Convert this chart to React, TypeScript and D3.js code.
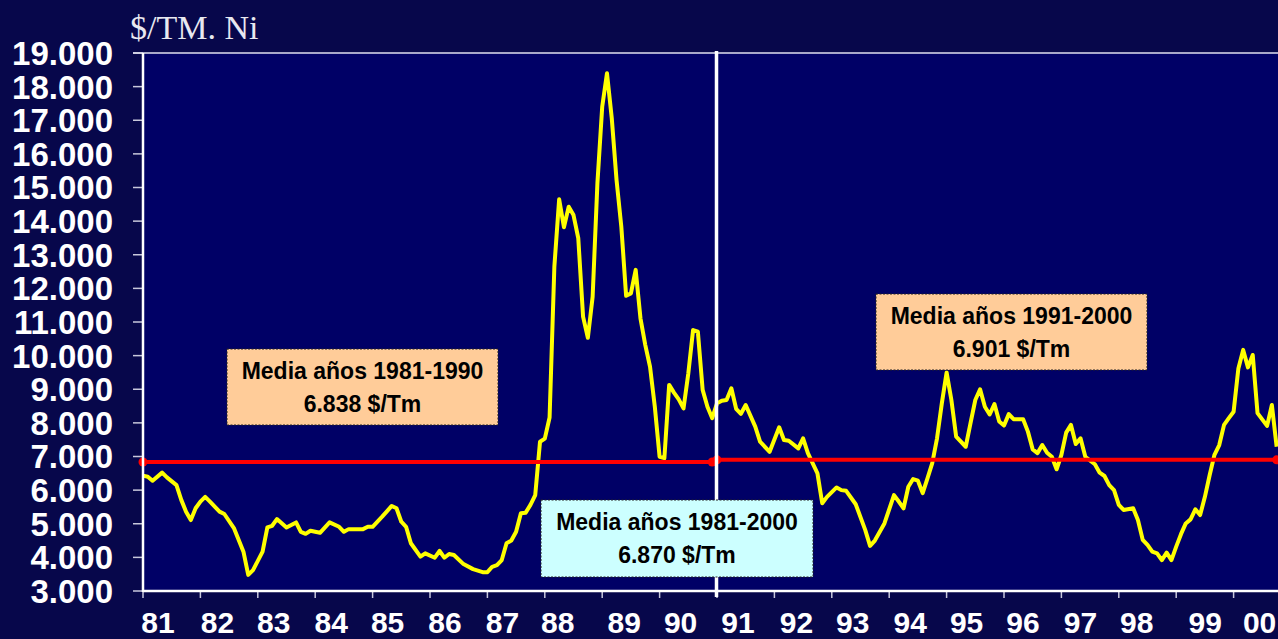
import React from "react";
import * as d3 from "d3";

// ---- data ----
const months = [
  "1981-01","1981-02","1981-03","1981-05","1981-06","1981-08","1981-09","1981-10","1981-11","1981-12",
  "1982-01","1982-02","1982-03","1982-05","1982-06","1982-08","1982-10","1982-11","1982-12",
  "1983-02","1983-03","1983-04","1983-05","1983-07","1983-09","1983-10","1983-11","1983-12",
  "1984-02","1984-04","1984-06","1984-07","1984-08","1984-11","1984-12",
  "1985-01","1985-03","1985-05","1985-06","1985-07","1985-08","1985-09","1985-11","1985-12",
  "1986-02","1986-03","1986-04","1986-05","1986-06","1986-08","1986-10","1986-12",
  "1987-01","1987-02","1987-03","1987-04","1987-05","1987-06","1987-07","1987-08","1987-09","1987-10","1987-11","1987-12",
  "1988-01","1988-02","1988-03","1988-04","1988-05","1988-06","1988-07","1988-08","1988-09","1988-10","1988-11","1988-12",
  "1989-01","1989-02","1989-03","1989-04","1989-05","1989-06","1989-07","1989-08","1989-09","1989-10","1989-11","1989-12",
  "1990-01","1990-02","1990-03","1990-04","1990-05","1990-06","1990-07","1990-08","1990-09","1990-10","1990-11","1990-12",
  "1991-01","1991-02","1991-03","1991-04","1991-05","1991-06","1991-07","1991-09","1991-10","1991-12",
  "1992-02","1992-03","1992-04","1992-06","1992-07","1992-08","1992-10","1992-11","1992-12",
  "1993-02","1993-03","1993-04","1993-06","1993-08","1993-09","1993-10","1993-12",
  "1994-02","1994-03","1994-04","1994-05","1994-06","1994-07","1994-08","1994-09","1994-10","1994-11","1994-12",
  "1995-01","1995-02","1995-03","1995-05","1995-06","1995-07","1995-08","1995-09","1995-10","1995-11","1995-12",
  "1996-01","1996-02","1996-03","1996-05","1996-06","1996-07","1996-08","1996-09","1996-10","1996-11","1996-12",
  "1997-01","1997-02","1997-03","1997-04","1997-05","1997-06","1997-08","1997-09","1997-10","1997-11","1997-12",
  "1998-01","1998-02","1998-04","1998-05","1998-06","1998-07","1998-08","1998-09","1998-10","1998-11","1998-12",
  "1999-01","1999-02","1999-03","1999-04","1999-05","1999-06","1999-07","1999-08","1999-09","1999-10","1999-11","1999-12",
  "2000-01","2000-02","2000-03","2000-04","2000-05","2000-06","2000-08","2000-09","2000-10",
];
const prices = [
  6430,6400,6280,6520,6380,6150,5710,5360,5110,5460,
  5660,5800,5660,5360,5290,4870,4170,3480,3620,
  4170,4890,4940,5140,4890,5040,4760,4700,4790,
  4730,5040,4910,4760,4840,4840,4910,
  4910,5210,5530,5460,5060,4910,4420,4020,4120,
  3990,4190,3990,4100,4070,3800,3650,3560,
  3560,3720,3770,3920,4420,4500,4760,5310,5330,5560,5850,7440,
  7530,8160,12650,14650,13820,14430,14180,13490,11160,10530,11750,15130,
  17400,18400,17060,15220,13830,11780,11850,12550,11110,10320,9670,8480,
  6990,6950,9130,8900,8700,8430,9470,10760,10710,8980,8480,8140,
  8580,8660,8680,9030,8420,8270,8530,7890,7440,7140,
  7870,7490,7470,7240,7540,7100,6500,5610,5800,
  6080,6000,5980,5580,4810,4340,4500,5010,
  5850,5660,5460,6100,6330,6280,5910,6350,6800,7540,8580,
  9500,8680,7590,7290,7990,8680,9000,8480,8250,8560,8040,
  7920,8260,8110,8110,7740,7210,7100,7340,7110,6990,6620,
  7050,7710,7940,7370,7540,6990,6770,6520,6420,6150,6000,
  5560,5410,5460,5110,4520,4370,4170,4120,3920,4140,3920,
  4320,4690,5010,5130,5430,5260,5800,6450,7050,7340,7940,8140,
  8330,9620,10170,9650,10020,8290,7910,8530,7290,
];

const yearLabels = ["81","82","83","84","85","86","87","88","89","90","91","92","93","94","95","96","97","98","99","00"];
const yTicks = [3000,4000,5000,6000,7000,8000,9000,10000,11000,12000,13000,14000,15000,16000,17000,18000,19000];

const periodMeans = [
  { label: "Media años 1981-1990", value: 6838, from: "1981-01", to: "1990-12" },
  { label: "Media años 1991-2000", value: 6901, from: "1991-01", to: "2000-10" },
];
const overallMean = { label: "Media años 1981-2000", value: 6870 };
const unitTitle = "$/TM. Ni";

// ---- layout ----
const W = 1278, H = 639;
const yearLabelShift = [15,17,16,16,15,15,15,13,22,21,21,22,21,21,20,19,19,18,29,26];
const boxes = [
  { x: 227, y: 349, w: 271, h: 76, fill: "#ffcc99", text: periodMeans[0].label, value: periodMeans[0].value },
  { x: 541, y: 500, w: 272, h: 77, fill: "#ccffff", text: overallMean.label, value: overallMean.value },
  { x: 876, y: 294, w: 271, h: 76, fill: "#ffcc99", text: periodMeans[1].label, value: periodMeans[1].value },
];

const parseMonth = (s: string) => {
  const [yy, mm] = s.split("-").map(Number);
  return yy + (mm - 1) / 12;
};
const fmt = (v: number) => d3.format(",")(v).replace(/,/g, ".");

export default function App() {
  const x = d3.scaleLinear().domain([1981, 2001]).range([143, 1291]);
  const y = d3.scaleLinear().domain([3000, 19000]).range([591, 53]);
  const pts = months.map((m, i) => [parseMonth(m), prices[i]] as [number, number]);
  const line = d3.line<[number, number]>().x(d => x(d[0])).y(d => y(d[1]));
  const years = d3.range(1981, 2001);
  const font = "'Liberation Sans', Arial, sans-serif";

  return (
    <svg width={W} height={H} style={{ position: "absolute", left: 0, top: 0 }}>
      <rect x={0} y={0} width={W} height={H} fill="#07074b" />
      <rect x={x(1981)} y={y(19000)} width={W - x(1981)} height={y(3000) - y(19000)} fill="#000066" />
      <text x={130} y={39} fill="#e8e8f0" fontFamily="'Liberation Serif', 'Times New Roman', serif" fontSize={34}>{unitTitle}</text>

      {/* y axis ticks & labels */}
      {yTicks.map(t => (
        <g key={t}>
          <line x1={133} x2={x(1981)} y1={y(t)} y2={y(t)} stroke="#c8c8dc" strokeWidth={1.5} />
          <text x={113} y={y(t)} dy="0.36em" textAnchor="end" fill="#ffffff" fontFamily={font} fontWeight="bold" fontSize={33}>{fmt(t)}</text>
        </g>
      ))}
      {/* top border */}
      <line x1={133} x2={W} y1={y(19000)} y2={y(19000)} stroke="#e0e0f0" strokeWidth={1.5} />

      {/* x ticks & labels */}
      {years.map((yr, i) => (
        <g key={yr}>
          <line x1={x(yr)} x2={x(yr)} y1={y(3000)} y2={598} stroke="#c8c8dc" strokeWidth={1.5} />
          <text x={x(yr) + yearLabelShift[i]} y={633} textAnchor="middle" fill="#ffffff" fontFamily={font} fontWeight="bold" fontSize={30}>{yearLabels[i]}</text>
        </g>
      ))}

      {/* price line */}
      <path d={line(pts) || ""} fill="none" stroke="#ffff00" strokeWidth={4} strokeLinejoin="round" />

      {/* period means */}
      {periodMeans.map(p => {
        const x1 = x(parseMonth(p.from)), x2 = x(parseMonth(p.to));
        return (
          <g key={p.label}>
            <line x1={x1} x2={x2} y1={y(p.value)} y2={y(p.value)} stroke="#ff0000" strokeWidth={4} />
            <circle cx={x1} cy={y(p.value)} r={4.5} fill="#ff0000" />
            <circle cx={x2} cy={y(p.value)} r={4.5} fill="#ff0000" />
          </g>
        );
      })}

      {/* axes */}
      <line x1={x(1981)} x2={x(1981)} y1={y(19000)} y2={y(3000) + 1} stroke="#ffffff" strokeWidth={2.5} />
      <line x1={x(1981)} x2={W} y1={y(3000)} y2={y(3000)} stroke="#ffffff" strokeWidth={2.5} />
      {/* divider */}
      <line x1={x(1991) - 0.5} x2={x(1991) - 0.5} y1={51} y2={597} stroke="#ffffff" strokeWidth={3.5} />

      {/* annotation boxes */}
      {boxes.map(b => (
        <g key={b.text}>
          <rect x={b.x} y={b.y} width={b.w} height={b.h} fill={b.fill} stroke="#222" strokeWidth={1} strokeDasharray="2,1.5" />
          <text x={b.x + b.w / 2} y={b.y + 30} textAnchor="middle" fill="#000" fontFamily={font} fontWeight="bold" fontSize={23}>{b.text}</text>
          <text x={b.x + b.w / 2} y={b.y + 63} textAnchor="middle" fill="#000" fontFamily={font} fontWeight="bold" fontSize={23}>{fmt(b.value)} $/Tm</text>
        </g>
      ))}
    </svg>
  );
}
